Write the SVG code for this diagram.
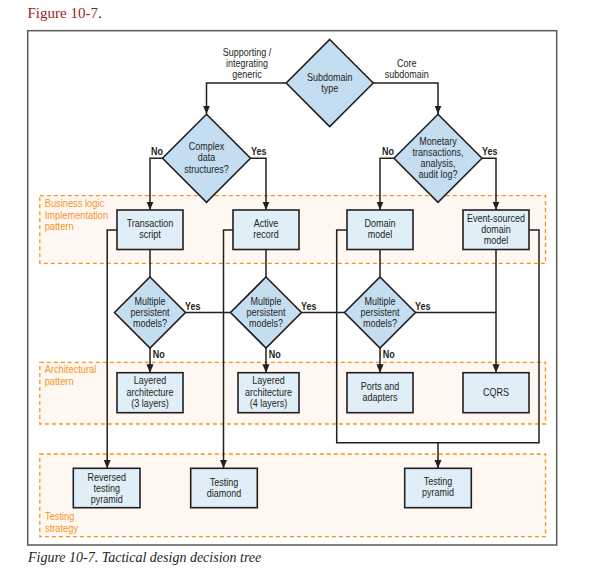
<svg xmlns="http://www.w3.org/2000/svg" width="594" height="578" viewBox="0 0 594 578">
<style>
.t,.b,.o,.e{font-family:"Liberation Sans",Arial,sans-serif;transform:scaleX(0.9);transform-box:fill-box}
.t{font-size:10px;fill:#231f20;text-anchor:middle;transform-origin:center}
.b{font-size:10px;font-weight:bold;fill:#231f20;transform-origin:left center}
.e{font-size:10px;font-weight:bold;fill:#231f20;text-anchor:end;transform-origin:right center}
.o{font-size:10px;fill:#f7941d;transform-origin:left center;transform:scaleX(0.93)}
.box{fill:#e0eef8;stroke:#231f20;stroke-width:1.6}
.dia{fill:#c5ddf0;stroke:#231f20;stroke-width:1.6}
.band{fill:#fff8f2;stroke:#f7941d;stroke-width:1.3;stroke-dasharray:4 3}
.ln{fill:none;stroke:#231f20;stroke-width:1.5}
</style>
<defs>
<marker id="ah" markerUnits="userSpaceOnUse" markerWidth="8.5" markerHeight="8.5" viewBox="0 0 10 10" refX="10" refY="5" orient="auto">
<path d="M0,0.8 L10,5 L0,9.2 Z" fill="#231f20"/>
</marker>
</defs>
<rect x="0" y="0" width="594" height="578" fill="#fff"/>
<text x="27.5" y="17.5" style="font-family:'Liberation Serif','Times New Roman',serif;font-size:15px;fill:#9b1c20">Figure 10-7<tspan fill="#231f20">.</tspan></text>
<rect x="27.7" y="30.7" width="529" height="514.3" fill="#fff" stroke="#5a5a5a" stroke-width="1.5"/>
<g id="bands">
<rect class="band" x="39.8" y="195.7" width="505.7" height="67.6"/>
<rect class="band" x="39.8" y="362.3" width="505.7" height="61.7"/>
<rect class="band" x="39.8" y="454" width="505.7" height="82.7"/>
<text class="o"><tspan x="44.7" y="207.4">Business logic</tspan><tspan x="44.7" y="218.6">Implementation</tspan><tspan x="44.7" y="229.8">pattern</tspan></text>
<text class="o"><tspan x="44.7" y="373.45">Architectural</tspan><tspan x="44.7" y="384.65">pattern</tspan></text>
<text class="o"><tspan x="45" y="520.45">Testing</tspan><tspan x="45" y="531.65">strategy</tspan></text>
</g>
<g id="connectors">
<path class="ln" d="M286.2,83 H206.5 V114" marker-end="url(#ah)"/>
<path class="ln" d="M373.2,83 H438 V114" marker-end="url(#ah)"/>
<path class="ln" d="M162.5,158.3 H150 V210" marker-end="url(#ah)"/>
<path class="ln" d="M250.5,158.3 H266 V210" marker-end="url(#ah)"/>
<path class="ln" d="M394,158.3 H380 V210" marker-end="url(#ah)"/>
<path class="ln" d="M482,158.3 H496 V210" marker-end="url(#ah)"/>
<path class="ln" d="M150,249.5 V277"/>
<path class="ln" d="M266,249.5 V277"/>
<path class="ln" d="M380,249.5 V277"/>
<path class="ln" d="M150,348 V372.7" marker-end="url(#ah)"/>
<path class="ln" d="M266,348 V372.7" marker-end="url(#ah)"/>
<path class="ln" d="M380,348 V372.7" marker-end="url(#ah)"/>
<path class="ln" d="M496,249.5 V372.7" marker-end="url(#ah)"/>
<path class="ln" d="M185.5,312.5 H230.5 M301.5,312.5 H344.5 M415.5,312.5 H496"/>
<path class="ln" d="M117,230 H107.2 V468.3" marker-end="url(#ah)"/>
<path class="ln" d="M233,230 H223.5 V468.3" marker-end="url(#ah)"/>
<path class="ln" d="M347,230 H336.7 V442.7 H539 V230 H529"/>
<path class="ln" d="M438,442.7 V468.3" marker-end="url(#ah)"/>
<text class="e" x="163" y="155.5">No</text>
<text class="b" x="251" y="155.5">Yes</text>
<text class="e" x="394" y="155.5">No</text>
<text class="b" x="482" y="155.5">Yes</text>
<text class="b" x="185" y="310">Yes</text>
<text class="b" x="301" y="310">Yes</text>
<text class="b" x="415" y="310">Yes</text>
<text class="b" x="152.7" y="357.7">No</text>
<text class="b" x="268.7" y="357.7">No</text>
<text class="b" x="382.7" y="357.7">No</text>
<text class="t"><tspan x="247" y="55.8">Supporting /</tspan><tspan x="247" y="67">integrating</tspan><tspan x="247" y="78.2">generic</tspan></text>
<text class="t"><tspan x="406.7" y="66.65">Core</tspan><tspan x="406.7" y="77.85">subdomain</tspan></text>
</g>
<g id="n-subdomain">
<polygon class="dia" points="329.7,39.5 373.2,83 329.7,126.5 286.2,83"/>
<text class="t"><tspan x="329.7" y="80.9">Subdomain</tspan><tspan x="329.7" y="92.1">type</tspan></text>
</g>
<g id="n-complex">
<polygon class="dia" points="206.5,114.3 250.5,158.3 206.5,202.3 162.5,158.3"/>
<text class="t"><tspan x="206.5" y="150.3">Complex</tspan><tspan x="206.5" y="161.5">data</tspan><tspan x="206.5" y="172.7">structures?</tspan></text>
</g>
<g id="n-monetary">
<polygon class="dia" points="438,114.3 482,158.3 438,202.3 394,158.3"/>
<text class="t"><tspan x="438" y="144.85">Monetary</tspan><tspan x="438" y="156.05">transactions,</tspan><tspan x="438" y="167.25">analysis,</tspan><tspan x="438" y="178.45">audit log?</tspan></text>
</g>
<g id="n-transaction">
<rect class="box" x="117" y="210" width="66" height="39.5"/>
<text class="t"><tspan x="150" y="227.1">Transaction</tspan><tspan x="150" y="238.3">script</tspan></text>
</g>
<g id="n-active">
<rect class="box" x="233" y="210" width="66" height="39.5"/>
<text class="t"><tspan x="266" y="227.1">Active</tspan><tspan x="266" y="238.3">record</tspan></text>
</g>
<g id="n-domain">
<rect class="box" x="347" y="210" width="66" height="39.5"/>
<text class="t"><tspan x="380" y="227.1">Domain</tspan><tspan x="380" y="238.3">model</tspan></text>
</g>
<g id="n-eventsourced">
<rect class="box" x="463" y="210" width="66" height="39.5"/>
<text class="t"><tspan x="496" y="222.1">Event-sourced</tspan><tspan x="496" y="233.3">domain</tspan><tspan x="496" y="244.5">model</tspan></text>
</g>
<g id="n-mpm1">
<polygon class="dia" points="150,277 185.5,312.5 150,348 114.5,312.5"/>
<text class="t"><tspan x="150" y="305">Multiple</tspan><tspan x="150" y="316.2">persistent</tspan><tspan x="150" y="327.4">models?</tspan></text>
</g>
<g id="n-mpm2">
<polygon class="dia" points="266,277 301.5,312.5 266,348 230.5,312.5"/>
<text class="t"><tspan x="266" y="305">Multiple</tspan><tspan x="266" y="316.2">persistent</tspan><tspan x="266" y="327.4">models?</tspan></text>
</g>
<g id="n-mpm3">
<polygon class="dia" points="380,277 415.5,312.5 380,348 344.5,312.5"/>
<text class="t"><tspan x="380" y="305">Multiple</tspan><tspan x="380" y="316.2">persistent</tspan><tspan x="380" y="327.4">models?</tspan></text>
</g>
<g id="n-layered3">
<rect class="box" x="117" y="372.7" width="66" height="40"/>
<text class="t"><tspan x="150" y="384.5">Layered</tspan><tspan x="150" y="395.7">architecture</tspan><tspan x="150" y="406.9">(3 layers)</tspan></text>
</g>
<g id="n-layered4">
<rect class="box" x="238" y="372.7" width="61" height="40"/>
<text class="t"><tspan x="268.5" y="384.5">Layered</tspan><tspan x="268.5" y="395.7">architecture</tspan><tspan x="268.5" y="406.9">(4 layers)</tspan></text>
</g>
<g id="n-ports">
<rect class="box" x="347" y="372.7" width="66" height="40"/>
<text class="t"><tspan x="380" y="389.9">Ports and</tspan><tspan x="380" y="401.1">adapters</tspan></text>
</g>
<g id="n-cqrs">
<rect class="box" x="463" y="372.7" width="66" height="40"/>
<text class="t" x="496" y="396.5">CQRS</text>
</g>
<g id="n-reversed">
<rect class="box" x="73.3" y="468.3" width="66.7" height="39.4"/>
<text class="t"><tspan x="106.7" y="480.6">Reversed</tspan><tspan x="106.7" y="491.8">testing</tspan><tspan x="106.7" y="503">pyramid</tspan></text>
</g>
<g id="n-tdiamond">
<rect class="box" x="190.7" y="468.3" width="66.6" height="39.4"/>
<text class="t"><tspan x="224" y="486.05">Testing</tspan><tspan x="224" y="497.25">diamond</tspan></text>
</g>
<g id="n-tpyramid">
<rect class="box" x="404.7" y="468.3" width="66.6" height="39.4"/>
<text class="t"><tspan x="438" y="485.1">Testing</tspan><tspan x="438" y="496.3">pyramid</tspan></text>
</g>
<text x="28" y="562" style="font-family:'Liberation Serif','Times New Roman',serif;font-size:14px;font-style:italic;fill:#231f20">Figure 10-7. Tactical design decision tree</text>
</svg>
